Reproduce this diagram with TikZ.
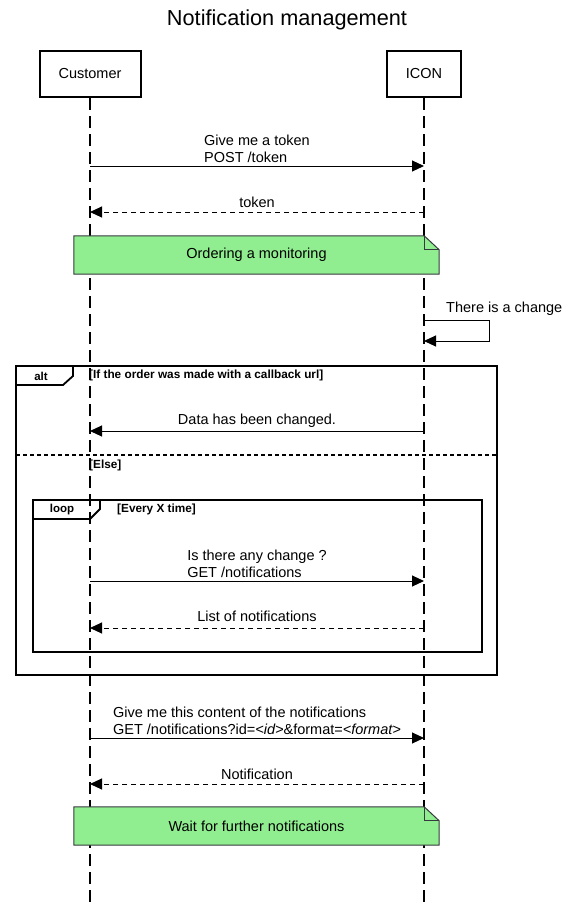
\documentclass[tikz,border=0pt]{standalone}
\usepackage{fontspec}
\setmainfont{Liberation Sans}
\usetikzlibrary{arrows.meta,calc}
\definecolor{notegreen}{HTML}{90EE90}
\definecolor{notedraw}{HTML}{36393D}
\pgfdeclarelayer{lifelayer}
\pgfdeclarelayer{notelayer}
\pgfsetlayers{lifelayer,notelayer,main}
\begin{document}
\begin{tikzpicture}[x=1pt,y=-1pt,
  actorbox/.style={draw, line width=2pt, minimum height=46pt, inner sep=0pt, font=\fontsize{14.5}{17}\selectfont},
  lifeline/.style={line width=1.2pt, dash pattern=on 12pt off 6pt},
  msg/.style={line width=1pt, -{Triangle[length=12pt,width=11pt]}},
  retmsg/.style={msg, dash pattern=on 5pt off 4pt},
  lbl/.style={font=\fontsize{14.5}{17}\selectfont, align=left, inner sep=0pt},
  framebox/.style={line width=1.8pt},
  sepline/.style={line width=1.8pt, dash pattern=on 4pt off 3pt},
  cond/.style={font=\fontsize{11.8}{13}\selectfont\bfseries, anchor=west, inner sep=0pt},
  tagtext/.style={font=\fontsize{11.5}{13}\selectfont\bfseries, inner sep=0pt},
  notebox/.style={minimum width=365pt, minimum height=38pt, inner sep=0pt, font=\fontsize{14.5}{17}\selectfont},
  notefill/.style={fill=notegreen, draw=notedraw, line width=1pt},
]
\useasboundingbox (0,0) rectangle (571,902);

% title
\node[font=\fontsize{21.7}{26}\selectfont] (title) at (287,20) {Notification management};

% actors
\node[actorbox, minimum width=101pt] (cust) at (90,74) {Customer};
\node[actorbox, minimum width=74pt] (icon) at (424,74) {ICON};
\coordinate (custend) at (90,902);
\coordinate (iconend) at (424,902);
\begin{pgfonlayer}{lifelayer}
\draw[lifeline] (cust.south) -- (custend);
\draw[lifeline] (icon.south) -- (iconend);
\end{pgfonlayer}

% message 1
\coordinate (c1) at (90,166); \coordinate (i1) at (424,166);
\draw[msg] (c1) -- (i1);
\node[lbl] (l1) at (257,149) {Give me a token\\POST /token};

% message 2
\coordinate (c2) at (90,212); \coordinate (i2) at (424,212);
\draw[retmsg] (i2) -- (c2);
\node[lbl] (l2) at (257,202) {token};

% note 1
\node[notebox] (note1) at (256.5,255) {Ordering a monitoring};
\begin{pgfonlayer}{notelayer}
\draw[notefill] (note1.north west) -- ([xshift=-15pt]note1.north east) -- ([yshift=-14pt]note1.north east) -- (note1.south east) -- (note1.south west) -- cycle;
\draw[draw=notedraw, line width=1pt] ([xshift=-15pt]note1.north east) -- ([xshift=-15pt,yshift=-14pt]note1.north east) -- ([yshift=-14pt]note1.north east);
\end{pgfonlayer}

% self message
\coordinate (s1) at (424,320); \coordinate (s2) at (489,320);
\coordinate (s3) at (489,341); \coordinate (s4) at (424,341);
\draw[msg] (s1) -- (s2) -- (s3) -- (s4);
\node[lbl, anchor=west] (ls) at (446,309) {There is a change};

% alt frame
\draw[framebox] (16,366) rectangle (497,675);
\draw[framebox] (16,385) -- (63,385) -- (73,376) -- (73,366);
\node[tagtext] (alttag) at (41,376) {alt};
\node[cond] (altcond) at (89,375) {[If the order was made with a callback url]};

\coordinate (c3) at (90,431); \coordinate (i3) at (424,431);
\draw[msg] (i3) -- (c3);
\node[lbl] (l3) at (257,421) {Data has been changed.};

\draw[sepline] (16,455) -- (497,455);
\node[cond] (elsecond) at (89,465) {[Else]};

% loop frame
\draw[framebox] (33,500) rectangle (482,652);
\draw[framebox] (33,519) -- (90,519) -- (100,509) -- (100,500);
\node[tagtext] (looptag) at (62,510) {loop};
\node[cond] (loopcond) at (117,509) {[Every X time]};

\coordinate (c4) at (90,581); \coordinate (i4) at (424,581);
\draw[msg] (c4) -- (i4);
\node[lbl] (l4) at (257,564) {Is there any change ?\\GET /notifications};

\coordinate (c5) at (90,628); \coordinate (i5) at (424,628);
\draw[retmsg] (i5) -- (c5);
\node[lbl] (l5) at (257,616) {List of notifications};

% after frames
\coordinate (c6) at (90,738); \coordinate (i6) at (424,738);
\draw[msg] (c6) -- (i6);
\node[lbl] (l6) at (257,721) {Give me this content of the notifications\\GET /notifications?id=\textit{<id>}\&format=\textit{<format>}};

\coordinate (c7) at (90,784); \coordinate (i7) at (424,784);
\draw[retmsg] (i7) -- (c7);
\node[lbl] (l7) at (257,774) {Notification};

% note 2
\node[notebox] (note2) at (256.5,826) {Wait for further notifications};
\begin{pgfonlayer}{notelayer}
\draw[notefill] (note2.north west) -- ([xshift=-15pt]note2.north east) -- ([yshift=-14pt]note2.north east) -- (note2.south east) -- (note2.south west) -- cycle;
\draw[draw=notedraw, line width=1pt] ([xshift=-15pt]note2.north east) -- ([xshift=-15pt,yshift=-14pt]note2.north east) -- ([yshift=-14pt]note2.north east);
\end{pgfonlayer}
\end{tikzpicture}
\end{document}
